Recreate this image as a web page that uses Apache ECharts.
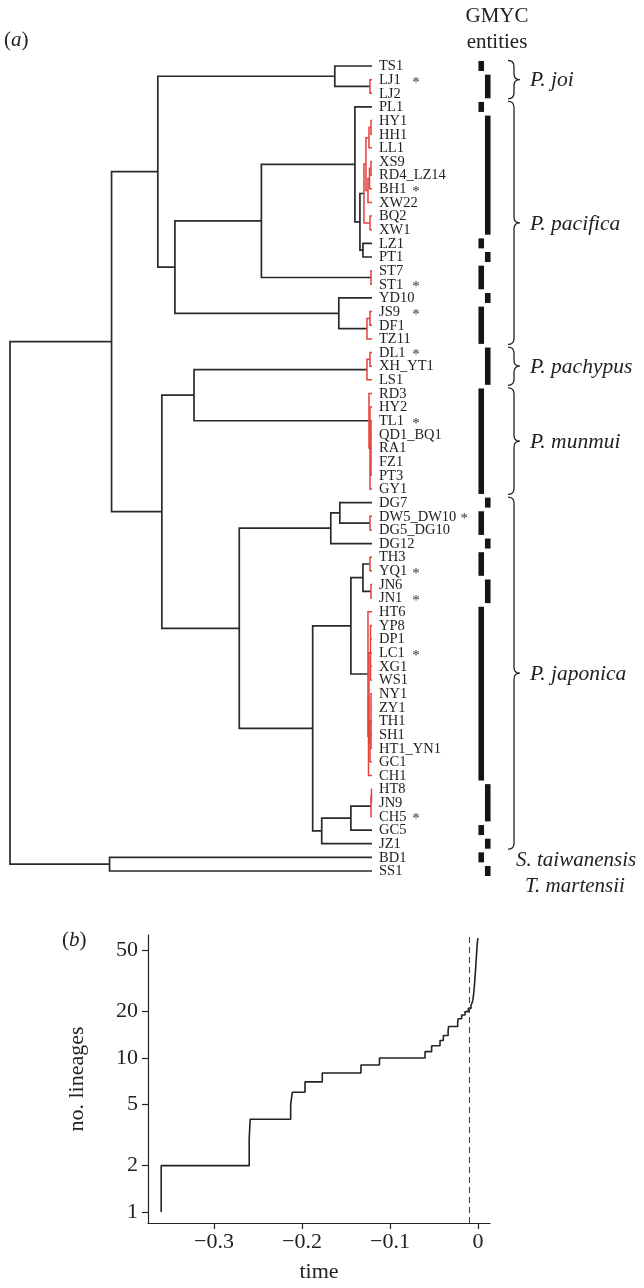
<!DOCTYPE html>
<html>
<head>
<meta charset="utf-8">
<script src="https://cdn.jsdelivr.net/npm/echarts@6/dist/echarts.min.js"></script>
<style>
html, body { margin: 0; padding: 0; background: #fff; }
#main { width: 644px; height: 1288px; }
</style>
</head>
<body>
<div id="main"></div>
<script>
// tips of the tree, top to bottom
var leaves = ['TS1', 'LJ1', 'LJ2', 'PL1', 'HY1', 'HH1', 'LL1', 'XS9', 'RD4_LZ14', 'BH1',
    'XW22', 'BQ2', 'XW1', 'LZ1', 'PT1', 'ST7', 'ST1', 'YD10', 'JS9', 'DF1', 'TZ11',
    'DL1', 'XH_YT1', 'LS1', 'RD3', 'HY2', 'TL1', 'QD1_BQ1', 'RA1', 'FZ1', 'PT3', 'GY1',
    'DG7', 'DW5_DW10', 'DG5_DG10', 'DG12', 'TH3', 'YQ1', 'JN6', 'JN1', 'HT6', 'YP8',
    'DP1', 'LC1', 'XG1', 'WS1', 'NY1', 'ZY1', 'TH1', 'SH1', 'HT1_YN1', 'GC1', 'CH1',
    'HT8', 'JN9', 'CH5', 'GC5', 'JZ1', 'BD1', 'SS1'];

// internal nodes: name, node time (same time scale as panel b), children
var treeNodes = [
    ['root', -0.360, ['IN', 'OUT']],
    ['OUT', -0.261, ['BD1', 'SS1']],
    ['IN', -0.259, ['A', 'B']],
    ['A', -0.213, ['JOI', 'C']],
    ['JOI', -0.037, ['TS1', 'LJ']],
    ['LJ', -0.002, ['LJ1', 'LJ2']],
    ['C', -0.196, ['D', 'E']],
    ['D', -0.110, ['PAC', 'ST']],
    ['PAC', -0.017, ['PL1', 'Q']],
    ['Q', -0.012, ['R', 'LZPT']],
    ['R', -0.008, ['R1', 'R2']],
    ['R1', -0.006, ['R3', 'R4']],
    ['R3', -0.003, ['R5', 'LL1']],
    ['R5', -0.001, ['HY1', 'HH1']],
    ['R4', -0.004, ['R6', 'XW22']],
    ['R6', -0.0025, ['R7', 'BH1']],
    ['R7', -0.001, ['XS9', 'RD4_LZ14']],
    ['R2', -0.002, ['BQ2', 'XW1']],
    ['LZPT', -0.009, ['LZ1', 'PT1']],
    ['ST', -0.001, ['ST7', 'ST1']],
    ['E', -0.033, ['YD10', 'JS']],
    ['JS', -0.005, ['JS1', 'TZ11']],
    ['JS1', -0.002, ['JS9', 'DF1']],
    ['B', -0.209, ['PM', 'J']],
    ['PM', -0.177, ['PA', 'MU']],
    ['PA', -0.005, ['PA1', 'LS1']],
    ['PA1', -0.002, ['DL1', 'XH_YT1']],
    ['MU', -0.003, ['RD3', 'MU1']],
    ['MU1', -0.002, ['HY2', 'MU2', 'GY1']],
    ['MU2', -0.001, ['TL1', 'QD1_BQ1', 'RA1', 'FZ1', 'PT3']],
    ['J', -0.132, ['DG', 'J2']],
    ['DG', -0.041, ['DG1', 'DG12']],
    ['DG1', -0.032, ['DG7', 'DW']],
    ['DW', -0.002, ['DW5_DW10', 'DG5_DG10']],
    ['J2', -0.059, ['J3', 'J4']],
    ['J3', -0.021, ['J5', 'JA']],
    ['J5', -0.009, ['THYQ', 'JN']],
    ['THYQ', -0.002, ['TH3', 'YQ1']],
    ['JN', -0.001, ['JN6', 'JN1']],
    ['JA', -0.004, ['HT6', 'JA2']],
    ['JA2', -0.0035, ['JA3', 'CH1']],
    ['JA3', -0.003, ['JA4', 'JA5']],
    ['JA4', -0.0015, ['YP8', 'DP1', 'LC1', 'XG1', 'WS1']],
    ['JA5', -0.002, ['JA6', 'GC1']],
    ['JA6', -0.001, ['NY1', 'ZY1', 'TH1', 'SH1', 'HT1_YN1']],
    ['J4', -0.050, ['J6', 'JZ1']],
    ['J6', -0.021, ['HJC', 'GC5']],
    ['HJC', -0.001, ['HTJN', 'CH5']],
    ['HTJN', -0.0005, ['HT8', 'JN9']]
];

// GMYC entities (first and last tip)
var entityFirst = ['TS1', 'LJ1', 'PL1', 'HY1', 'LZ1', 'PT1', 'ST7', 'YD10', 'JS9', 'DL1', 'RD3',
    'DG7', 'DW5_DW10', 'DG12', 'TH3', 'JN6', 'HT6', 'HT8', 'GC5', 'JZ1', 'BD1', 'SS1'];
var entityLast = ['TS1', 'LJ2', 'PL1', 'XW1', 'LZ1', 'PT1', 'ST1', 'YD10', 'TZ11', 'LS1', 'GY1',
    'DG7', 'DG5_DG10', 'DG12', 'YQ1', 'JN1', 'CH1', 'CH5', 'GC5', 'JZ1', 'BD1', 'SS1'];

// species brackets
var speciesNames = ['P. joi', 'P. pacifica', 'P. pachypus', 'P. munmui', 'P. japonica'];
var speciesFirst = ['TS1', 'PL1', 'DL1', 'RD3', 'DG7'];
var speciesLast = ['LJ2', 'TZ11', 'LS1', 'GY1', 'JZ1'];

// tips marked with an asterisk
var starred = ['LJ1', 'BH1', 'ST1', 'JS9', 'DL1', 'TL1', 'DW5_DW10', 'YQ1', 'JN1', 'LC1', 'CH5'];

// lineages through time (panel b)
var lttTime = [-0.360, -0.360, -0.2600, -0.2589, -0.2129, -0.2110, -0.1966, -0.1770, -0.1330,
    -0.1120, -0.0602, -0.0527, -0.0432, -0.0394, -0.0340, -0.0335, -0.0231, -0.0226, -0.0186,
    -0.0148, -0.0110, -0.0080, -0.0065, -0.0058, -0.0050, -0.0045, -0.0040, -0.0035, -0.0030,
    -0.0025, -0.0020, -0.0015, -0.0010, -0.0005, 0];
var lttCount = [1, 2, 3, 4, 5, 6, 7, 8, 9, 10, 11, 12, 13, 14, 15, 16, 17, 18, 19, 20, 21, 22,
    23, 24, 26, 28, 30, 33, 36, 40, 44, 49, 54, 58, 60];
var thresholdTime = -0.007;
var timeTicks = [-0.3, -0.2, -0.1, 0];
var countTicks = [1, 2, 5, 10, 20, 50];

var SERIF = '"Liberation Serif", "DejaVu Serif", serif';
var BLACK = '#2a2a2a';
var RED = '#e5403a';

// ---- tree layout ----
var leafIndex = {};
leaves.forEach(function (n, i) { leafIndex[n] = i; });
var nodeMap = {};
treeNodes.forEach(function (r) { nodeMap[r[0]] = { t: r[1], kids: r[2] }; });

function isLeaf(n) { return leafIndex[n] !== undefined; }
function tOf(n) { return isLeaf(n) ? 0 : nodeMap[n].t; }
function yOf(n) {
    if (isLeaf(n)) return leafIndex[n];
    var nd = nodeMap[n];
    if (nd.y === undefined) {
        var s = 0;
        nd.kids.forEach(function (k) { s += yOf(k); });
        nd.y = s / nd.kids.length;
    }
    return nd.y;
}
function tipsOf(n) {
    if (isLeaf(n)) return [leafIndex[n]];
    var out = [];
    nodeMap[n].kids.forEach(function (k) { out = out.concat(tipsOf(k)); });
    return out;
}
function entityOfTip(i) {
    for (var e = 0; e < entityFirst.length; e++) {
        if (i >= leafIndex[entityFirst[e]] && i <= leafIndex[entityLast[e]]) return e;
    }
    return -1;
}
function isRed(n) {
    var tips = tipsOf(n);
    var e = entityOfTip(tips[0]);
    for (var i = 1; i < tips.length; i++) if (entityOfTip(tips[i]) !== e) return false;
    return leafIndex[entityLast[e]] > leafIndex[entityFirst[e]];
}

var segments = [];
treeNodes.forEach(function (r) {
    var name = r[0], t = r[1];
    var kids = r[2].slice().sort(function (a, b) { return yOf(a) - yOf(b); });
    var color = isRed(name) ? RED : BLACK;
    var k0 = kids[0], kn = kids[kids.length - 1];
    segments.push({
        pts: [[tOf(k0), yOf(k0)], [t, yOf(k0)], [t, yOf(kn)], [tOf(kn), yOf(kn)]],
        color: color
    });
    for (var i = 1; i < kids.length - 1; i++) {
        segments.push({ pts: [[t, yOf(kids[i])], [tOf(kids[i]), yOf(kids[i])]], color: color });
    }
});

// text width for asterisk placement
var ctx = document.createElement('canvas').getContext('2d');
ctx.font = '14.5px ' + SERIF;

var myChart = echarts.init(document.getElementById('main'), null, { renderer: 'canvas' });

var option = {
    animation: false,
    backgroundColor: '#fff',
    grid: [
        { left: 10, top: 66, width: 362, height: 805 },
        { left: 478, top: 66, width: 13, height: 805 },
        { left: 148, top: 935, width: 342, height: 288 }
    ],
    xAxis: [
        { gridIndex: 0, type: 'value', min: -0.36, max: 0, show: false },
        { gridIndex: 1, type: 'category', data: ['c1', 'c2'], show: false },
        {
            gridIndex: 2, type: 'value', min: -0.375, max: 0.0136,
            axisLine: { onZero: false, lineStyle: { color: '#222', width: 1.2 } },
            axisTick: { customValues: timeTicks, length: 6, lineStyle: { color: '#222', width: 1.2 } },
            axisLabel: {
                customValues: timeTicks, margin: 8, color: '#222', fontSize: 22, fontFamily: SERIF,
                formatter: function (v) { return v === 0 ? '0' : '\u2212' + Math.abs(v).toFixed(1); }
            },
            splitLine: { show: false },
            name: 'time', nameLocation: 'middle', nameGap: 38,
            nameTextStyle: { fontSize: 22, fontFamily: SERIF, color: '#222' }
        }
    ],
    yAxis: [
        { gridIndex: 0, type: 'value', min: 0, max: 59, inverse: true, show: false },
        { gridIndex: 1, type: 'value', min: 0, max: 59, inverse: true, show: false },
        {
            gridIndex: 2, type: 'log', min: 0.8487, max: 62.9,
            axisLine: { show: true, onZero: false, lineStyle: { color: '#222', width: 1.2 } },
            axisTick: { show: true, customValues: countTicks, length: 6, lineStyle: { color: '#222', width: 1.2 } },
            axisLabel: { customValues: countTicks, margin: 10, color: '#222', fontSize: 22, fontFamily: SERIF },
            splitLine: { show: false },
            minorTick: { show: false },
            name: 'no. lineages', nameLocation: 'middle', nameGap: 60,
            nameTextStyle: { fontSize: 22, fontFamily: SERIF, color: '#222' }
        }
    ],
    series: [
        // tree branches
        {
            type: 'custom', xAxisIndex: 0, yAxisIndex: 0, clip: false,
            data: segments.map(function (s) { return s.pts[1]; }),
            renderItem: function (params, api) {
                var s = segments[params.dataIndex];
                return {
                    type: 'polyline',
                    shape: { points: s.pts.map(function (p) { return api.coord(p); }) },
                    style: { stroke: s.color, lineWidth: s.color === RED ? 1.5 : 1.7, fill: null }
                };
            }
        },
        // tip labels and asterisks
        {
            type: 'custom', xAxisIndex: 0, yAxisIndex: 0, clip: false,
            data: leaves.map(function (n, i) { return [0, i]; }),
            renderItem: function (params, api) {
                var name = leaves[params.dataIndex];
                var p = api.coord([0, params.dataIndex]);
                var kids = [{
                    type: 'text', x: p[0] + 7, y: p[1] + 0.5,
                    style: { text: name, font: '14.5px ' + SERIF, fill: '#222', align: 'left', verticalAlign: 'middle' }
                }];
                if (starred.indexOf(name) >= 0) {
                    var w = ctx.measureText(name).width;
                    kids.push({
                        type: 'text', x: Math.max(p[0] + 44, p[0] + 7 + w + 8), y: p[1] + 3,
                        style: { text: '*', font: '15px ' + SERIF, fill: '#333', align: 'center', verticalAlign: 'middle' }
                    });
                }
                return { type: 'group', children: kids };
            }
        },
        // GMYC entity bars
        {
            type: 'custom', xAxisIndex: 1, yAxisIndex: 1, clip: false,
            data: entityFirst.map(function (n, i) { return [i % 2, leafIndex[n]]; }),
            renderItem: function (params, api) {
                var i = params.dataIndex;
                var col = i % 2;
                var p0 = api.coord([col, leafIndex[entityFirst[i]]]);
                var p1 = api.coord([col, leafIndex[entityLast[i]]]);
                return {
                    type: 'rect',
                    shape: { x: p0[0] - 2.8, y: p0[1] - 5, width: 5.6, height: p1[1] - p0[1] + 10 },
                    style: { fill: '#151515' }
                };
            }
        },
        // species braces
        {
            type: 'custom', xAxisIndex: 0, yAxisIndex: 0, clip: false,
            data: speciesFirst.map(function (n) { return [0, leafIndex[n]]; }),
            renderItem: function (params, api) {
                var i = params.dataIndex;
                var p0 = api.coord([0, leafIndex[speciesFirst[i]]]);
                var p1 = api.coord([0, leafIndex[speciesLast[i]]]);
                var y0 = p0[1] - 5.5, y1 = p1[1] + 5.5, ym = (y0 + y1) / 2;
                var x0 = p0[0] + 136, xs = x0 + 6, xt = x0 + 12, r = 6;
                var d = 'M' + x0 + ' ' + y0 + ' Q' + xs + ' ' + y0 + ' ' + xs + ' ' + (y0 + r) +
                    ' L' + xs + ' ' + (ym - r) + ' Q' + xs + ' ' + ym + ' ' + xt + ' ' + ym +
                    ' Q' + xs + ' ' + ym + ' ' + xs + ' ' + (ym + r) +
                    ' L' + xs + ' ' + (y1 - r) + ' Q' + xs + ' ' + y1 + ' ' + x0 + ' ' + y1;
                return {
                    type: 'group',
                    children: [
                        { type: 'path', shape: { pathData: d }, style: { stroke: '#222', lineWidth: 1.3, fill: null } },
                        {
                            type: 'text', x: x0 + 22, y: ym + 1,
                            style: { text: speciesNames[i], font: 'italic 21.5px ' + SERIF, fill: '#222', align: 'left', verticalAlign: 'middle' }
                        }
                    ]
                };
            }
        },
        // lineages through time
        {
            type: 'line', xAxisIndex: 2, yAxisIndex: 2,
            data: lttTime.map(function (t, i) { return [t, lttCount[i]]; }),
            step: 'end', symbol: 'none',
            lineStyle: { color: '#222', width: 1.6 },
            markLine: {
                silent: true, symbol: ['none', 'none'], label: { show: false },
                lineStyle: { type: [6, 4], color: '#444', width: 1.1 },
                data: [{ xAxis: thresholdTime }]
            }
        }
    ],
    graphic: [
        {
            type: 'text', left: 4, top: 30,
            style: { text: '({i|a})', fontSize: 21, fontFamily: SERIF, fill: '#222',
                rich: { i: { fontStyle: 'italic', fontSize: 21, fontFamily: SERIF } } }
        },
        {
            type: 'text', x: 497, y: 16,
            style: { text: 'GMYC', font: '21px ' + SERIF, fill: '#222', align: 'center', verticalAlign: 'middle' }
        },
        {
            type: 'text', x: 497, y: 42,
            style: { text: 'entities', font: '21px ' + SERIF, fill: '#222', align: 'center', verticalAlign: 'middle' }
        },
        {
            type: 'text', x: 516, y: 860,
            style: { text: 'S. taiwanensis', font: 'italic 21px ' + SERIF, fill: '#222', align: 'left', verticalAlign: 'middle' }
        },
        {
            type: 'text', x: 525, y: 886,
            style: { text: 'T. martensii', font: 'italic 21px ' + SERIF, fill: '#222', align: 'left', verticalAlign: 'middle' }
        },
        {
            type: 'text', x: 62, y: 940,
            style: { text: '({i|b})', fontSize: 21, fontFamily: SERIF, fill: '#222', verticalAlign: 'middle',
                rich: { i: { fontStyle: 'italic', fontSize: 21, fontFamily: SERIF } } }
        }
    ]
};

myChart.setOption(option);

window.addEventListener('resize', function () {
    myChart.resize();
});
</script>
</body>
</html>
